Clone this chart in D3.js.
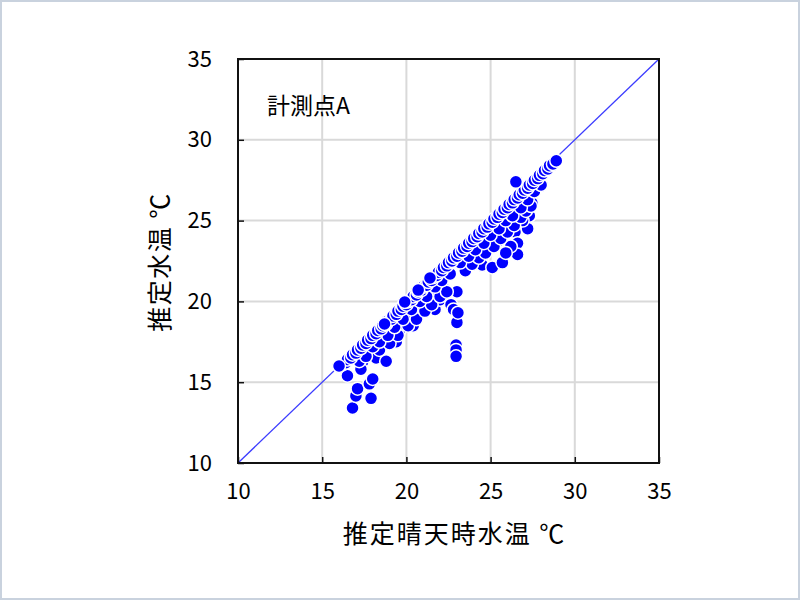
<!DOCTYPE html>
<html>
<head>
<meta charset="utf-8">
<script src="https://cdn.jsdelivr.net/npm/d3@7"></script>
<style>
  body { margin: 0; background: #fff; }
  svg text { font-family: "Noto Sans CJK JP", "DejaVu Sans", sans-serif; fill: #000; }
</style>
</head>
<body>
<div id="chart"></div>
<script>
// 推定晴天時水温 (x) and 推定水温 (y)
var xTicks = [10, 15, 20, 25, 30, 35]
var yTicks = [10, 15, 20, 25, 30, 35]

var outX = [16.8, 17.0, 17.1, 17.9, 17.8, 17.4, 18.2, 18.4, 19.4, 19.6, 16.5, 17.3, 18.0, 18.8,
  20.2, 20.4, 21.3, 21.7, 22.0, 22.35, 22.65, 22.8, 23.0, 23.06, 22.95, 22.95, 22.95, 23.0, 21.0, 21.8,
  24.25, 24.5, 24.8, 25.1, 25.7, 25.1, 26.45, 26.6, 26.6, 27.2, 27.3, 27.3, 27.45, 26.2, 25.9, 26.9, 24.0, 25.4]
var outY = [13.4, 14.15, 14.6, 14.0, 14.9, 16.25, 16.5, 17.0, 17.5, 18.2, 15.4, 15.8, 15.2, 16.3,
  19.0, 18.5, 19.96, 19.5, 20.1, 20.7, 19.8, 19.5, 18.7, 19.3, 17.3, 17.0, 16.6, 20.6, 19.7, 20.4,
  22.9, 22.25, 23.3, 22.1, 22.4, 24.2, 24.3, 23.6, 22.9, 24.5, 25.3, 26.3, 26.1, 23.4, 23.0, 25.0, 22.6, 23.7]

var band2X = [19.0, 19.5, 20.1, 20.6, 21.1, 21.5, 22.0, 22.4, 23.5, 23.9, 24.3, 24.7, 25.2, 25.6,
  26.0, 26.4, 26.8, 27.1, 27.4]
var band2Y = [17.4, 17.9, 18.5, 18.9, 19.4, 19.8, 20.3, 20.6, 21.9, 22.3, 22.7, 23.0, 23.4, 23.9,
  24.3, 24.7, 25.2, 25.6, 25.9]

var bandX = [17.2, 17.6, 18.0, 18.4, 18.9, 19.3, 19.8, 20.3, 20.8, 21.2, 21.7, 22.1, 22.6, 23.2,
  23.7, 24.1, 24.6, 25.0, 25.5, 25.9, 26.3, 26.8, 27.2, 27.6, 28.0]
var bandY = [16.3, 16.6, 17.2, 17.5, 17.9, 18.4, 18.9, 19.5, 20.0, 20.3, 20.9, 21.3, 21.7, 22.4,
  22.8, 23.2, 23.6, 24.1, 24.5, 25.0, 25.3, 25.8, 26.3, 26.8, 27.2]

var diagX = [16.2, 16.4, 16.5, 16.7, 16.8, 17.0, 17.1, 17.3, 17.4, 17.6, 17.7, 17.9, 18.0, 18.2,
  18.3, 18.5, 18.6, 18.8, 18.9, 19.1, 19.2, 19.4, 19.5, 19.7, 19.8, 20.0, 20.1, 20.3, 20.4, 20.6,
  20.7, 20.9, 21.0, 21.2, 21.3, 21.5, 21.6, 21.8, 21.9, 22.1, 22.2, 22.4, 22.5, 22.7, 22.8, 23.0,
  23.1, 23.3, 23.4, 23.6, 23.7, 23.9, 24.0, 24.2, 24.3, 24.5, 24.6, 24.8, 24.9, 25.1, 25.2, 25.4,
  25.5, 25.7, 25.8, 26.0, 26.1, 26.3, 26.4, 26.6, 26.7, 26.9, 27.0, 27.2, 27.3, 27.5, 27.6, 27.8,
  27.9, 28.1, 28.2, 28.4, 28.5, 28.7, 28.9]
var diagY = [16.1, 16.2, 16.4, 16.5, 16.7, 16.8, 17.0, 17.1, 17.3, 17.4, 17.6, 17.7, 17.9, 18.0,
  18.2, 18.3, 18.5, 18.6, 18.8, 18.9, 19.1, 19.2, 19.4, 19.5, 19.7, 19.8, 20.0, 20.1, 20.3, 20.4,
  20.6, 20.7, 20.9, 21.0, 21.2, 21.3, 21.5, 21.6, 21.8, 21.9, 22.1, 22.2, 22.4, 22.5, 22.7, 22.8,
  23.0, 23.1, 23.3, 23.4, 23.6, 23.7, 23.9, 24.0, 24.2, 24.3, 24.5, 24.6, 24.8, 24.9, 25.1, 25.2,
  25.4, 25.5, 25.7, 25.8, 26.0, 26.1, 26.3, 26.4, 26.6, 26.7, 26.9, 27.0, 27.2, 27.3, 27.5, 27.6,
  27.8, 27.9, 28.1, 28.2, 28.4, 28.5, 28.7]

// solid dots on top near the line
var topX = [16.0, 18.7, 19.9, 20.7, 21.4, 26.5]
var topY = [16.0, 18.6, 19.96, 20.7, 21.45, 27.4]

var W = 800, H = 600
var margin = { top: 59, right: 141, bottom: 137, left: 238 }
var w = W - margin.left - margin.right
var h = H - margin.top - margin.bottom

var svg = d3.select('#chart').append('svg')
  .attr('width', W)
  .attr('height', H)

svg.append('rect')
  .attr('x', 0.5).attr('y', 0.5)
  .attr('width', W - 1).attr('height', H - 1)
  .attr('fill', '#fff')
  .attr('stroke', '#c9d2de')
  .attr('stroke-width', 3)

var g = svg.append('g')
  .attr('transform', 'translate(' + margin.left + ',' + margin.top + ')')

var x = d3.scaleLinear().domain([10, 35]).range([0, w])
var y = d3.scaleLinear().domain([10, 35]).range([h, 0])

// grid
g.selectAll('.gx')
  .data(xTicks.slice(1, -1))
  .enter().append('line')
  .attr('x1', function(d) { return x(d) }).attr('x2', function(d) { return x(d) })
  .attr('y1', 0).attr('y2', h)
  .attr('stroke', '#d9d9d9').attr('stroke-width', 2)
g.selectAll('.gy')
  .data(yTicks.slice(1, -1))
  .enter().append('line')
  .attr('y1', function(d) { return y(d) }).attr('y2', function(d) { return y(d) })
  .attr('x1', 0).attr('x2', w)
  .attr('stroke', '#d9d9d9').attr('stroke-width', 2)

// 1:1 line
g.append('line')
  .attr('x1', x(10)).attr('y1', y(10))
  .attr('x2', x(35)).attr('y2', y(35))
  .attr('stroke', '#3c3cff').attr('stroke-width', 1.3)

function dots(xs, ys) {
  g.selectAll(null)
    .data(xs.map(function(d, i) { return [d, ys[i]] }))
    .enter().append('circle')
    .attr('cx', function(d) { return x(d[0]) })
    .attr('cy', function(d) { return y(d[1]) })
    .attr('r', 6.5)
    .attr('fill', '#0000ff')
    .attr('stroke', '#fff')
    .attr('stroke-width', 1.5)
}
dots(outX, outY)
dots(band2X, band2Y)
dots(bandX, bandY)
dots(diagX, diagY)
dots(topX, topY)

// frame
g.append('rect')
  .attr('width', w).attr('height', h)
  .attr('fill', 'none')
  .attr('stroke', '#111').attr('stroke-width', 2)

// axes, ticks pointing inward
var xAxis = g.append('g')
  .attr('transform', 'translate(0,' + h + ')')
  .call(d3.axisBottom(x).tickValues(xTicks).tickSizeInner(-6).tickSizeOuter(0).tickPadding(20))
var yAxis = g.append('g')
  .call(d3.axisLeft(y).tickValues(yTicks).tickSizeInner(-6).tickSizeOuter(0).tickPadding(26))
;[xAxis, yAxis].forEach(function(a) {
  a.select('.domain').remove()
  a.selectAll('line').attr('stroke', '#111').attr('stroke-width', 1.5)
  a.selectAll('text').style('font-size', '22px').attr('fill', '#000')
})

g.append('text')
  .attr('x', 29).attr('y', 55)
  .style('font-size', '23px')
  .text('計測点A')

svg.append('text')
  .attr('x', margin.left + w / 2 + 6).attr('y', 543)
  .attr('text-anchor', 'middle')
  .style('font-size', '25px')
  .style('letter-spacing', '2px')
  .text('推定晴天時水温 ℃')

svg.append('text')
  .attr('transform', 'translate(169,262) rotate(-90)')
  .attr('text-anchor', 'middle')
  .style('font-size', '25px')
  .style('letter-spacing', '1.5px')
  .text('推定水温 ℃')
</script>
</body>
</html>
